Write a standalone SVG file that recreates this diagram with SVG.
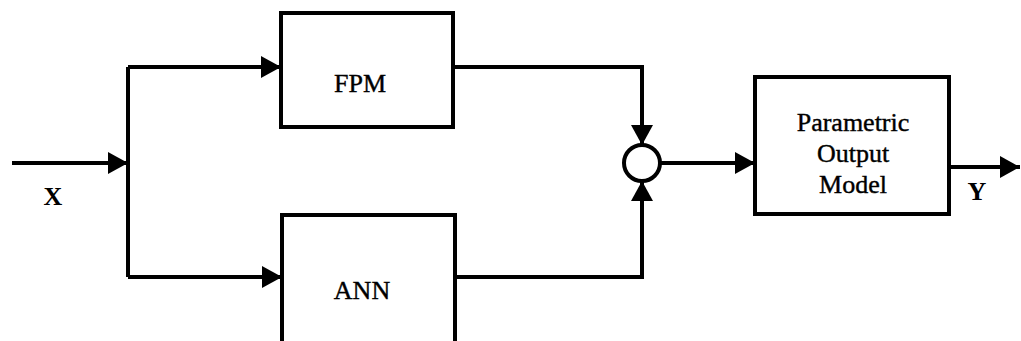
<svg xmlns="http://www.w3.org/2000/svg" width="1021" height="341" viewBox="0 0 1021 341">
<style>
.box{fill:#fff;stroke:#000;stroke-width:4}
.ln{fill:none;stroke:#000;stroke-width:4}
.t{font-family:"Liberation Serif",serif;font-size:26px;fill:#000;text-anchor:middle;stroke:#000;stroke-width:0.4}
.b{font-family:"Liberation Serif",serif;font-size:26px;font-weight:bold;fill:#000;text-anchor:middle}
</style>
<defs>
<marker id="ah" viewBox="0 0 20 22" refX="20" refY="11" markerWidth="20" markerHeight="22" markerUnits="userSpaceOnUse" orient="auto">
<path d="M0,0 L20,11 L0,22 Z" fill="#000"/>
</marker>
</defs>
<rect width="1021" height="341" fill="#fff"/>
<g id="connectors">
<path class="ln" d="M12,163 L128,163" marker-end="url(#ah)"/>
<path class="ln" d="M128,67 L128,277"/>
<path class="ln" d="M128,67 L281,67" marker-end="url(#ah)"/>
<path class="ln" d="M128,277 L282,277" marker-end="url(#ah)"/>
<path class="ln" d="M453,67 L642,67 L642,145" marker-end="url(#ah)"/>
<path class="ln" d="M455,277 L642,277 L642,181" marker-end="url(#ah)"/>
<path class="ln" d="M660,163 L755,163" marker-end="url(#ah)"/>
<path class="ln" d="M949,167 L1020,167" marker-end="url(#ah)"/>
</g>
<g id="fpm">
<rect class="box" x="281" y="13" width="172" height="114"/>
<text class="t" x="360" y="92">FPM</text>
</g>
<g id="ann">
<rect class="box" x="282" y="215" width="173" height="140"/>
<text class="t" x="362" y="299">ANN</text>
</g>
<g id="sum">
<circle cx="642" cy="163" r="18" fill="#fff" stroke="#000" stroke-width="4"/>
</g>
<g id="pom">
<rect class="box" x="755" y="77" width="194" height="137"/>
<text class="t" x="853" y="131">Parametric</text>
<text class="t" x="853" y="162">Output</text>
<text class="t" x="853" y="193">Model</text>
</g>
<g id="labels">
<text class="b" x="53" y="205">X</text>
<text class="b" x="977" y="200">Y</text>
</g>
</svg>
